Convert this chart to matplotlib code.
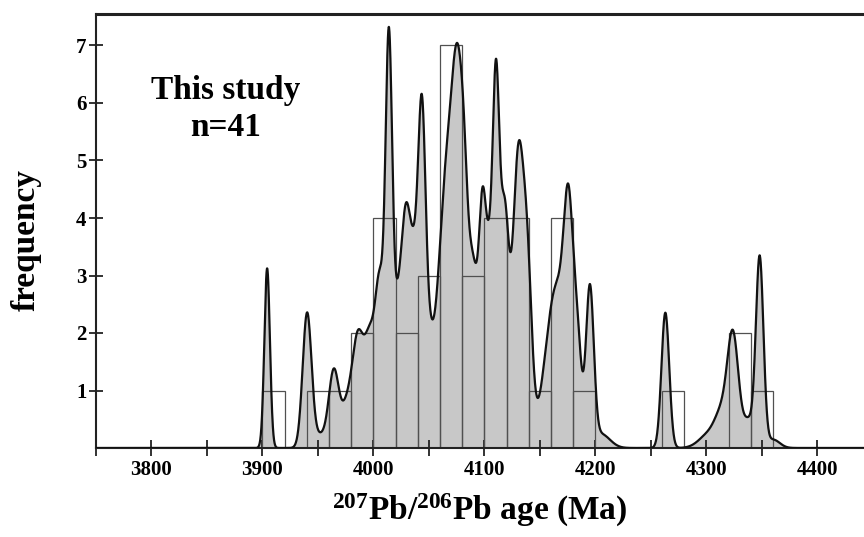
import numpy as np
import matplotlib
matplotlib.use('Agg')
import matplotlib.pyplot as plt

# histogram: 20 Ma bins (left edges) and grain counts
bin_left = [3900, 3940, 3960, 3980, 4000, 4020, 4040, 4060, 4080, 4100,
            4120, 4140, 4160, 4180, 4260, 4320, 4340]
bin_count = [1, 1, 1, 2, 4, 2, 3, 7, 3, 4, 4, 1, 4, 1, 1, 2, 1]
bin_width = 20

# probability density curve, as gaussian components (age, sigma, height)
pdf_age = [3904.2, 3940.2, 3952, 3964.3, 3976, 3986, 3997, 4006, 4013.8, 4021,
           4028.8, 4036, 4043.8, 4050, 4066, 4077, 4082, 4090, 4098, 4104,
           4110.5, 4118, 4130.5, 4139, 4165, 4176, 4184, 4195, 4205, 4263,
           4303, 4314, 4324, 4338, 4348, 4360]
pdf_sigma = [2.5, 4, 6, 4.5, 5, 5, 5, 4, 3, 5,
             3.5, 8, 3.2, 4, 7.9, 5.5, 3, 5, 3, 4,
             3, 4, 5, 4, 10, 4.2, 3.5, 3.5, 8, 3.5,
             9, 6, 5, 5, 3.4, 6]
pdf_height = [3.124, 2.328, 0.212, 1.315, 0.675, 1.8, 1.8, 2.55, 6.188, 1.899,
              1.337, 3.496, 3.62, 0.829, 4.6, 4.85, 1.0, 2.9, 2.71, 3.058,
              5.273, 3.929, 5.0, 2.5, 2.8, 2.93, 1.4, 2.7, 0.242, 2.353,
              0.25, 0.5, 1.9, 0.464, 3.268, 0.146]

x_major = np.arange(3800, 4401, 100)
x_minor = np.arange(3750, 4441, 50)
y_ticks = [1, 2, 3, 4, 5, 6, 7]

plt.rcParams['font.family'] = ['Liberation Serif', 'DejaVu Serif']
plt.rcParams['font.weight'] = 'bold'
plt.rcParams['mathtext.fontset'] = 'custom'
plt.rcParams['mathtext.rm'] = 'Liberation Serif:bold'
plt.rcParams['mathtext.bf'] = 'Liberation Serif:bold'
plt.rcParams['mathtext.it'] = 'Liberation Serif:bold'
plt.rcParams['mathtext.default'] = 'rm'

fig = plt.figure(figsize=(8.64, 5.37), dpi=100)
ax = fig.add_axes([96 / 864, 1 - 448 / 537, 1 - 96 / 864, 434 / 537])

# density curve
ages = np.linspace(3750, 4442, 4000)
c = np.array(pdf_age)
s = np.array(pdf_sigma)
h = np.array(pdf_height)
dens = (h[None, :] * np.exp(-(ages[:, None] - c[None, :])**2 / (2 * s[None, :]**2))).sum(axis=1)

ax.fill_between(ages, dens, 0, color='#c8c8c8', lw=0, zorder=1)
ax.bar(bin_left, bin_count, width=bin_width, align='edge', fill=False,
       edgecolor='#505050', lw=0.9, zorder=2)
ax.plot(ages, dens, color='#111111', lw=1.6, zorder=3)

ax.set_xlim(3750, 4442)
ax.set_ylim(0, 434 / 57.5)

for side in ['left', 'bottom']:
    ax.spines[side].set_linewidth(1.5)
    ax.spines[side].set_color('#222222')
ax.spines['top'].set_linewidth(2.2)
ax.spines['top'].set_color('#222222')
ax.spines['right'].set_visible(False)

ax.set_xticks(x_major)
ax.set_xticks(x_minor, minor=True)
ax.set_yticks(y_ticks)
ax.tick_params(axis='x', which='both', direction='inout', length=11, width=1.3,
               color='#222222', labelsize=15, pad=3)
ax.tick_params(axis='y', which='both', direction='inout', length=10, width=1.3,
               color='#222222', labelsize=15, pad=2)

ax.set_xlabel(r'$^{207}$Pb/$^{206}$Pb age (Ma)', fontsize=24, fontweight='bold')
ax.xaxis.set_label_coords(0.5, -0.102)
ax.set_ylabel('frequency', fontsize=24, fontweight='bold')
ax.yaxis.set_label_coords(-0.071, 0.479)

ax.text(0.169, 0.78, 'This study\nn=41', transform=ax.transAxes, fontsize=24,
        fontweight='bold', ha='center', va='center', multialignment='center',
        linespacing=1.25)

fig.savefig('out.png', dpi=100)
